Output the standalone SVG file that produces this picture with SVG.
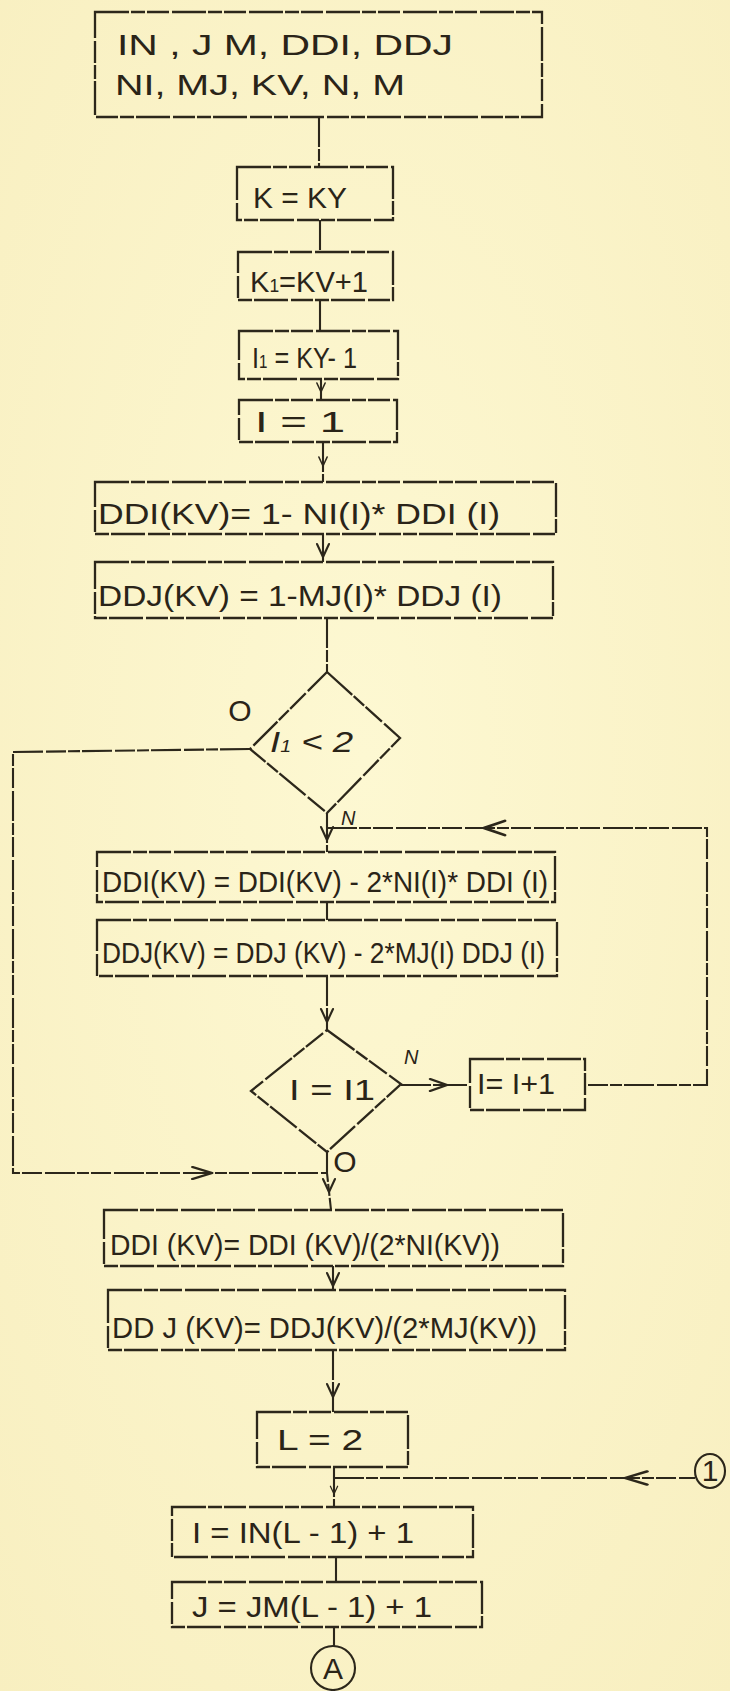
<svg xmlns="http://www.w3.org/2000/svg" width="730" height="1691" viewBox="0 0 730 1691">
<style>
.bx{fill:none;stroke:#2c271b;stroke-width:2.3;stroke-dasharray:34 2 14 2 22 3}
.ln{fill:none;stroke:#2c271b;stroke-width:2.1;stroke-dasharray:30 2 12 2 20 3}
.ar{fill:none;stroke:#2c271b;stroke-width:2.1;stroke-linecap:round;stroke-linejoin:round}
.t{font-family:"Liberation Sans",Arial,sans-serif;fill:#2a2418;font-size:30px}
.lb{font-family:"Liberation Sans",Arial,sans-serif;fill:#2a2418;font-style:italic;font-size:20px}
</style>
<defs>
<radialGradient id="bg" cx="50%" cy="45%" r="75%">
<stop offset="0" stop-color="#fdf8d2"/>
<stop offset="1" stop-color="#f8efc0"/>
</radialGradient>
<path id="chev" class="ar" d="M-6,-13 L0,0 L6,-13"/>
</defs>
<rect width="730" height="1691" fill="url(#bg)"/>

<g id="connectors">
<path class="ln" d="M319,117 V167"/>
<path class="ln" d="M320,220 V252"/>
<path class="ln" d="M320,300 V331"/>
<path class="ln" d="M321,379 V400"/>
<path class="ln" d="M323,442 V482"/>
<path class="ln" d="M323,534 V562"/>
<path class="ln" d="M327,618 V672"/>
<path class="ln" d="M250,749 L13,752 V1173 H327"/>
<path class="ln" d="M327,813 V852"/>
<path class="ln" d="M327,828 H707 V1085 H585"/>
<path class="ln" d="M327,902 V920"/>
<path class="ln" d="M327,976 V1030"/>
<path class="ln" d="M401,1085 H470"/>
<path class="ln" d="M327,1152 V1173 L331,1210"/>
<path class="ln" d="M333,1266 V1290"/>
<path class="ln" d="M333,1350 V1412"/>
<path class="ln" d="M334,1467 V1507"/>
<path class="ln" d="M334,1478 H695"/>
<path class="ln" d="M336,1557 V1582"/>
<path class="ln" d="M334,1627 V1646"/>
<use href="#chev" transform="translate(321,392) scale(0.7)"/>
<use href="#chev" transform="translate(323,466) scale(0.7)"/>
<use href="#chev" transform="translate(323,557)"/>
<use href="#chev" transform="translate(327,840)"/>
<use href="#chev" transform="translate(484,828) rotate(90) scale(1.2,1.6)"/>
<use href="#chev" transform="translate(327,1022)"/>
<use href="#chev" transform="translate(447,1085) rotate(-90) scale(1,1.3)"/>
<use href="#chev" transform="translate(212,1173) rotate(-90) scale(1,1.5)"/>
<use href="#chev" transform="translate(329,1192)"/>
<use href="#chev" transform="translate(333,1286)"/>
<use href="#chev" transform="translate(333,1397)"/>
<use href="#chev" transform="translate(334,1494) scale(0.6)"/>
<use href="#chev" transform="translate(625,1478) rotate(90) scale(1.1,1.7)"/>
</g>

<g id="n-input">
<rect class="bx" x="95" y="12" width="447" height="105"/>
<text class="t" x="117" y="55" font-size="34" textLength="336" lengthAdjust="spacingAndGlyphs">IN , J M, DDI, DDJ</text>
<text class="t" x="115" y="95" font-size="34" textLength="290" lengthAdjust="spacingAndGlyphs">NI, MJ, KV, N, M</text>
</g>

<g id="n-k">
<rect class="bx" x="237" y="167" width="156" height="53"/>
<text class="t" x="253" y="208" font-size="32" textLength="94" lengthAdjust="spacingAndGlyphs">K = KY</text>
</g>

<g id="n-k1">
<rect class="bx" x="238" y="252" width="155" height="48"/>
<text class="t" x="250" y="292" font-size="30" textLength="118" lengthAdjust="spacingAndGlyphs">K<tspan font-size="18">1</tspan>=KV+1</text>
</g>

<g id="n-i1">
<rect class="bx" x="239" y="331" width="159" height="48"/>
<text class="t" x="252" y="368" font-size="30" textLength="105" lengthAdjust="spacingAndGlyphs">I<tspan font-size="18">1</tspan> = KY- 1</text>
</g>

<g id="n-i">
<rect class="bx" x="239" y="400" width="158" height="42"/>
<text class="t" x="255" y="432" font-size="30" textLength="90" lengthAdjust="spacingAndGlyphs">I = 1</text>
</g>

<g id="n-ddi1">
<rect class="bx" x="95" y="482" width="461" height="52"/>
<text class="t" x="98" y="524" font-size="30" textLength="402" lengthAdjust="spacingAndGlyphs">DDI(KV)= 1- NI(I)* DDI (I)</text>
</g>

<g id="n-ddj1">
<rect class="bx" x="95" y="562" width="458" height="56"/>
<text class="t" x="98" y="606" font-size="30" textLength="404" lengthAdjust="spacingAndGlyphs">DDJ(KV) = 1-MJ(I)* DDJ (I)</text>
</g>

<g id="n-test1">
<path class="bx" d="M327,672 L400,738 L327,813 L250,749 Z"/>
<text class="t" x="270" y="752" font-size="26" font-style="italic" textLength="83" lengthAdjust="spacingAndGlyphs">I<tspan font-size="16">1</tspan> &lt; 2</text>
<text class="t" x="240" y="721" font-size="18" text-anchor="middle">O</text>
<text class="lb" x="341" y="825">N</text>
</g>

<g id="n-ddi2">
<rect class="bx" x="97" y="852" width="458" height="50"/>
<text class="t" x="102" y="892" font-size="28" textLength="446" lengthAdjust="spacingAndGlyphs">DDI(KV) = DDI(KV) - 2*NI(I)* DDI (I)</text>
</g>

<g id="n-ddj2">
<rect class="bx" x="97" y="920" width="460" height="56"/>
<text class="t" x="102" y="963" font-size="28" textLength="443" lengthAdjust="spacingAndGlyphs">DDJ(KV) = DDJ (KV) - 2*MJ(I) DDJ (I)</text>
</g>

<g id="n-test2">
<path class="bx" d="M327,1030 L401,1084 L327,1152 L251,1091 Z"/>
<text class="t" x="289" y="1100" font-size="28" textLength="86" lengthAdjust="spacingAndGlyphs">I = I1</text>
<text class="lb" x="404" y="1064">N</text>
<text class="t" x="345" y="1172" font-size="18" text-anchor="middle">O</text>
</g>

<g id="n-inc">
<rect class="bx" x="470" y="1059" width="115" height="51"/>
<text class="t" x="477" y="1094" font-size="28" textLength="78" lengthAdjust="spacingAndGlyphs">I= I+1</text>
</g>

<g id="n-ddi3">
<rect class="bx" x="104" y="1210" width="459" height="56"/>
<text class="t" x="110" y="1255" font-size="30" textLength="390" lengthAdjust="spacingAndGlyphs">DDI (KV)= DDI (KV)/(2*NI(KV))</text>
</g>

<g id="n-ddj3">
<rect class="bx" x="108" y="1290" width="457" height="60"/>
<text class="t" x="112" y="1338" font-size="30" textLength="425" lengthAdjust="spacingAndGlyphs">DD J (KV)= DDJ(KV)/(2*MJ(KV))</text>
</g>

<g id="n-l">
<rect class="bx" x="257" y="1412" width="151" height="55"/>
<text class="t" x="277" y="1450" font-size="34" textLength="86" lengthAdjust="spacingAndGlyphs">L = 2</text>
</g>

<g id="n-conn1">
<ellipse class="ar" cx="710" cy="1471" rx="15" ry="17"/>
<text class="t" x="710" y="1481" font-size="24" text-anchor="middle">1</text>
</g>

<g id="n-ib">
<rect class="bx" x="172" y="1507" width="301" height="50"/>
<text class="t" x="192" y="1543" font-size="30" textLength="222" lengthAdjust="spacingAndGlyphs">I = IN(L - 1) + 1</text>
</g>

<g id="n-jb">
<rect class="bx" x="172" y="1582" width="310" height="45"/>
<text class="t" x="192" y="1617" font-size="30" textLength="240" lengthAdjust="spacingAndGlyphs">J = JM(L - 1) + 1</text>
</g>

<g id="n-a">
<circle class="ar" cx="333" cy="1668" r="22"/>
<text class="t" x="333" y="1679" font-size="28" text-anchor="middle">A</text>
</g>
</svg>
